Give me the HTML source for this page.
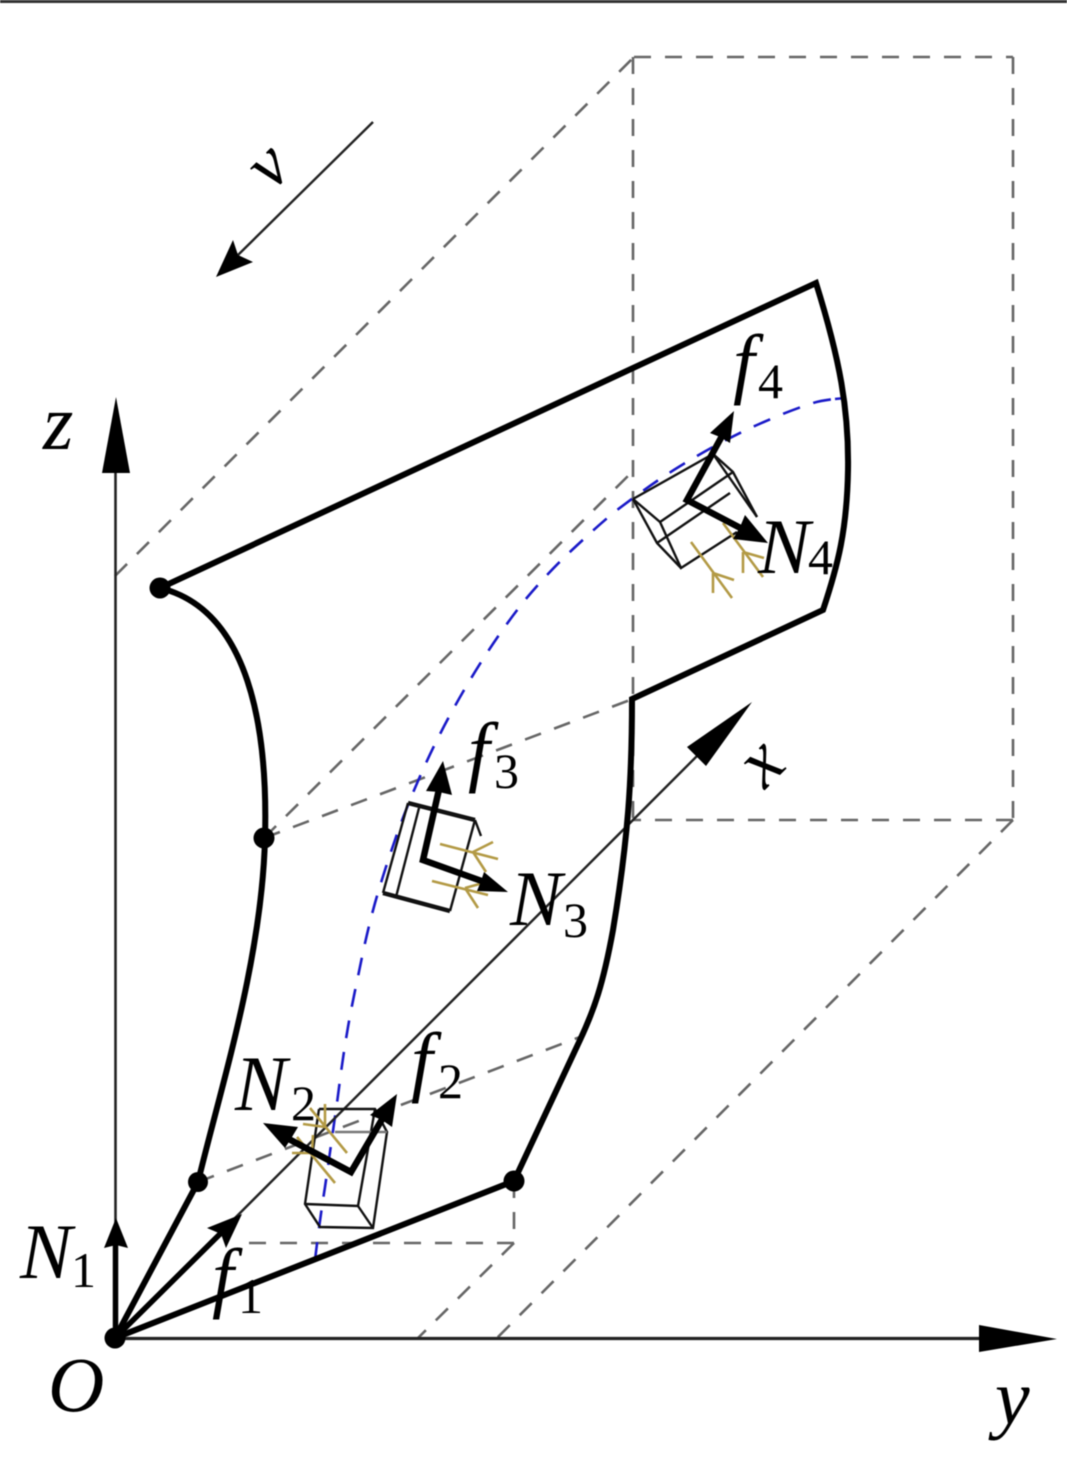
<!DOCTYPE html>
<html><head><meta charset="utf-8"><style>
html,body{margin:0;padding:0;background:#fff}
svg{display:block;filter:blur(.4px)}
text{font-family:"Liberation Serif",serif;fill:#000}
.i{font-style:italic;font-size:78px}
.s{font-size:50px}
</style></head><body>
<svg width="1067" height="1461" viewBox="0 0 1067 1461" xmlns="http://www.w3.org/2000/svg">
<rect width="1067" height="1461" fill="#fff"/>
<rect x="0" y="0" width="1067" height="3" fill="#333"/>
<!-- dashed construction -->
<g fill="none" stroke="#666" stroke-width="2.600" stroke-dasharray="17 14">
<path d="M115 576L634 57"/>
<path d="M634 57H1013"/>
<path d="M1013 57V820"/>
<path d="M633 57V820"/>
<path d="M1013 820H632"/>
<path d="M1013 820L497 1338"/>
<path d="M514 1181V1243"/>
<path d="M514 1243H245"/>
<path d="M514 1243L418 1338"/>
<path d="M264 838L630 700"/>
<path d="M198 1182L580 1037"/>
<path d="M264 838L634 470"/>
</g>
<!-- blue dashed curve -->
<path d="M315 1260C318 1235 321 1212 325 1187C329 1160 333 1130 337 1103C340 1080 343 1056 347 1033C351 1008 357 982 362 957C366 938 370 921 375 903C381 882 388 860 395 840C400 825 406 810 412 795C420 776 428 758 437 740C447 720 458 700 470 680C487 652 505 625 525 600C540 582 556 565 572 550C587 536 602 522 617 510C637 495 656 481 677 468C703 452 730 437 757 425C775 417 794 409 813 403C823 400 834 399 845 398" fill="none" stroke="#1a1ac8" stroke-width="2.600" stroke-dasharray="18 14"/>
<path d="M835 399L845 398" fill="none" stroke="#1a1ac8" stroke-width="2.600"/>
<!-- axes -->
<g stroke="#222" stroke-width="2.600" fill="none">
<path d="M115.500 1338V470"/>
<path d="M115 1338.500H985" stroke-width="3.200"/>
<path d="M115 1338L700 753" stroke-width="2.400"/>
<path d="M373 122L238 255" stroke-width="2.400"/>
</g>
<g fill="#000">
<path d="M116 397L130 473H102Z"/>
<path d="M1057 1339L979 1352V1325Z"/>
<path d="M752 702L706 766L687 747Z"/>
<path d="M216 277L233 240L238 255L253 262Z"/>
</g>
<!-- surface outline -->
<g fill="none" stroke="#000" stroke-width="6" stroke-linejoin="miter">
<path d="M160 588L816 283C840 360 849 410 848 470C847 530 838 565 823 610L632 699C632 780 628 840 613 930C603 985 594 1010 580 1040L514 1181L115 1338L198 1182C220 1090 262 960 265 838C268 730 250 610 160 588"/>
</g>
<g fill="#000">
<circle cx="160" cy="588" r="10.500"/>
<circle cx="264" cy="838" r="10.500"/>
<circle cx="198" cy="1182" r="10"/>
<circle cx="514" cy="1181" r="10.500"/>
<circle cx="115" cy="1338" r="10.500"/>
</g>
<!-- origin arrows -->
<g stroke="#000" fill="none" stroke-width="5.500">
<path d="M115.500 1338V1240"/>
<path d="M115 1338L222 1232"/>
</g>
<g fill="#000">
<path d="M116 1218L128 1248L116 1245L104 1248Z"/>
<path d="M242 1214L226 1248L221 1234L207 1228Z"/>
</g>
<!-- box 2 -->
<g fill="none" stroke="#111" stroke-width="2.400">
<path d="M319 1109H375L387 1132L373 1228L320 1227L305 1204L319 1109"/>
<path d="M305 1204L358 1206L375 1109"/>
<path d="M358 1206L373 1228"/>
<path d="M335 1132H387" stroke="#777"/>
</g>
<!-- box 3 -->
<g fill="none" stroke="#111" stroke-width="2.400">
<path d="M408 803L383 893"/>
<path d="M419 808L396 897"/>
<path d="M475 820L450 911"/>
<path d="M475 820L481 836"/>
<path d="M408 803L475 820" stroke-width="4.500"/>
<path d="M383 893L450 911" stroke-width="4.500"/>
</g>
<!-- box 4 -->
<g fill="none" stroke="#111" stroke-width="2.400">
<path d="M633 499L713 454L733 472L757 517"/>
<path d="M713 454L757 517"/>
<path d="M633 499L660 522L681 568L737 532"/>
<path d="M633 499L657 543L681 568"/>
<path d="M660 522L733 472"/>
<path d="M657 543L730 493"/>
</g>
<!-- gold arrows -->
<g fill="none" stroke="#b39a45" stroke-width="2.600">
<path d="M310 1108L347 1153M325 1127L303 1124M325 1127L325 1104"/>
<path d="M297 1137L335 1183M312 1153L292 1153M312 1153L313 1135"/>
<path d="M440 844L498 859M473 852L493 842M473 852L486 872"/>
<path d="M432 881L488 895M465 888L483 883M465 888L478 908"/>
<path d="M691 542L732 598M713 573L734 580M713 573L713 593"/>
<path d="M723 523L763 577M743 552L764 558M743 552L743 573"/>
</g>
<!-- force arrows -->
<g fill="none" stroke="#000" stroke-width="6.500" stroke-linejoin="miter">
<path d="M285 1137L351 1172L384 1116"/>
<path d="M440 785L423 860L490 884"/>
<path d="M722 436L687 500L750 533"/>
</g>
<g fill="#000">
<path d="M263 1123L298 1127L292 1137L285 1148Z"/>
<path d="M397 1094L392 1127L382 1120L370 1115Z"/>
<path d="M443 761L452 795L439 792L426 791Z"/>
<path d="M508 892L477 891L481 881L484 872Z"/>
<path d="M734 411L730 443L720 437L710 433Z"/>
<path d="M768 543L733 539L740 527L745 515Z"/>
</g>
<!-- labels -->
<text class="i" x="43" y="449">z</text>
<text class="i" x="20" y="1278">N</text><text class="s" x="71" y="1287">1</text>
<text class="i" x="48" y="1411">O</text>
<text class="i" x="212" y="1303">f</text><text class="s" x="238" y="1313">1</text>
<text class="i" x="235" y="1110">N</text><text class="s" x="291" y="1120">2</text>
<text class="i" x="411" y="1087">f</text><text class="s" x="438" y="1098">2</text>
<text class="i" x="468" y="777">f</text><text class="s" x="494" y="788">3</text>
<text class="i" x="510" y="925">N</text><text class="s" x="563" y="937">3</text>
<text class="i" x="733" y="389">f</text><text class="s" x="758" y="398">4</text>
<text class="i" x="758" y="573">N</text><text class="s" x="808" y="574">4</text>
<text class="i" x="995" y="1424">y</text>
<text class="i" style="font-size:70px" transform="translate(272 192) rotate(-45)">v</text>
<text class="i" style="font-size:74px" transform="translate(765 790) rotate(-45)">x</text>
</svg>
</body></html>
